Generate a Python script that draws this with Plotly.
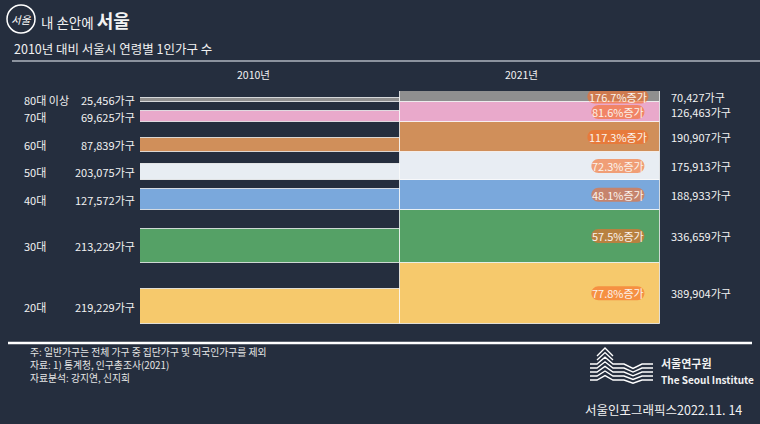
import plotly.graph_objects as go

ages = ['20대', '30대', '40대', '50대', '60대', '70대', '80대 이상']
hh_2010 = [219229, 213229, 127572, 102097, 87839, 69625, 25456]
hh_2021 = [389904, 336659, 188933, 175913, 190907, 126463, 70427]
labels_2010 = ['219,229가구', '213,229가구', '127,572가구', '203,075가구',
               '87,839가구', '69,625가구', '25,456가구']
growth = ['77.8%', '57.5%', '48.1%', '72.3%', '117.3%', '81.6%', '176.7%']

age_colors = {
    '20대': '#f6c96c',
    '30대': '#55a166',
    '40대': '#7aa8dc',
    '50대': '#e8edf3',
    '60대': '#d08f5a',
    '70대': '#e9a9cb',
    '80대 이상': '#8f8f8f',
}

bg = '#252e3e'
font_kr = 'Noto Sans CJK KR'

# band bottoms (stacked by 2021 values)
bottoms = []
acc = 0
for v in hh_2021:
    bottoms.append(acc)
    acc += v
total = acc

c2021 = [b + v / 2 for b, v in zip(bottoms, hh_2021)]
c2010 = [b + v / 2 for b, v in zip(bottoms, hh_2010)]
cols = [age_colors[a] for a in ages]

# plot area in pixels
L, R, T, B = 140, 660, 91, 324


def pp(x, y):
    return (x - L) / (R - L), (B - y) / (B - T)


fig = go.Figure()
fig.add_trace(go.Bar(
    y=c2010, x=[1] * 7, base=-1, width=hh_2010, orientation='h',
    marker=dict(color=cols, line=dict(color='rgba(255,255,255,0.75)', width=1)),
    hoverinfo='skip', showlegend=False
))
fig.add_trace(go.Bar(
    y=c2021, x=[1] * 7, base=0, width=hh_2021, orientation='h',
    marker=dict(color=cols, line=dict(color='rgba(255,255,255,0.75)', width=1)),
    hoverinfo='skip', showlegend=False
))

ann = []
shapes = []
lab_font = dict(family=font_kr, size=11, color='#f2f2f2')

for i, a in enumerate(ages):
    ann.append(dict(x=pp(22, 0)[0], xref='paper', y=c2010[i], yref='y',
                    text=a, showarrow=False, xanchor='left', font=lab_font))
    ann.append(dict(x=-1, xref='x', y=c2010[i], yref='y', xshift=-3,
                    text=labels_2010[i], showarrow=False, xanchor='right', font=lab_font))
    ann.append(dict(x=1, xref='x', y=c2021[i], yref='y', xshift=9,
                    text=f'{hh_2021[i]:,}가구', showarrow=False, xanchor='left', font=lab_font))
    # growth pill
    hw = (8 * len(growth[i]) + 13) / 2
    hh = 7
    r = 7
    k = 0.552 * r
    path = (f'M {-hw + r},{-hh} L {hw - r},{-hh} '
            f'C {hw - r + k},{-hh} {hw},{-k} {hw},0 '
            f'C {hw},{k} {hw - r + k},{hh} {hw - r},{hh} '
            f'L {-hw + r},{hh} '
            f'C {-hw + r - k},{hh} {-hw},{k} {-hw},0 '
            f'C {-hw},{-k} {-hw + r - k},{-hh} {-hw + r},{-hh} Z')
    shapes.append(dict(type='path', xref='x', yref='y', xsizemode='pixel', ysizemode='pixel',
                       xanchor=0.838, yanchor=c2021[i], path=path,
                       fillcolor='rgba(245,110,40,0.62)', line=dict(width=0), layer='above'))
    ann.append(dict(x=0.838, xref='x', y=c2021[i], yref='y',
                    text=growth[i] + '증가', showarrow=False,
                    font=dict(family=font_kr, size=11, color='#fbf3ec')))


def txt(x, y, s, size=11, anchor='left', color='#f2f2f2'):
    px_, py_ = pp(x, y)
    ann.append(dict(x=px_, y=py_, xref='paper', yref='paper', text=s, showarrow=False,
                    xanchor=anchor, yanchor='middle',
                    font=dict(family=font_kr, size=size, color=color)))


# header
txt(253, 75, '2010년', 10.5, 'center')
txt(521, 75, '2021년', 10.5, 'center')
txt(39, 20, '내 손안에 <b><span style="font-size:18px">서울</span></b>', 13.5)
txt(21, 19, '<i>서울</i>', 10.5, 'center', 'white')
txt(12, 48, '2010년 대비 서울시 연령별 1인가구 수', 12.5)

x0, y0 = pp(7, 5)
x1, y1 = pp(35, 33)
shapes.append(dict(type='circle', xref='paper', yref='paper', x0=x0, y0=y0, x1=x1, y1=y1,
                   line=dict(color='white', width=1.5)))
x0, y0 = pp(12, 61)
x1, _ = pp(760, 61)
shapes.append(dict(type='line', xref='paper', yref='paper', x0=x0, y0=y0, x1=x1, y1=y0,
                   line=dict(color='#8c939e', width=2)))

# footer
x0, y0 = pp(8, 343)
x1, _ = pp(752, 343)
shapes.append(dict(type='line', xref='paper', yref='paper', x0=x0, y0=y0, x1=x1, y1=y0,
                   line=dict(color='white', width=2.5)))
txt(28, 352, '주: 일반가구는 전체 가구 중 집단가구 및 외국인가구를 제외', 9.8, color='#e6e6e6')
txt(28, 365, '자료: 1) 통계청, 인구총조사(2021)', 9.8, color='#e6e6e6')
txt(28, 378, '자료분석: 강지연, 신지희', 9.8, color='#e6e6e6')
txt(659, 363, '<b>서울연구원</b>', 11)
txt(659, 379, '<b>The Seoul Institute</b>', 10, color='#f2f2f2')
txt(744, 409, '서울인포그래픽스2022.11. 14', 12.5, 'right')

# institute logo waves
for i in range(7):
    yb = 356 + 4 * i
    pts = [(590, yb), (597, yb), (605, yb - 8 + i * 0.6), (613, yb), (624, yb),
           (633, yb + 5 - i * 0.3), (642, yb), (653, yb)]
    if i < 2:
        pts = pts[1:4]
    path = ''
    for j, (px_, py_) in enumerate(pts):
        a, b = pp(px_, py_)
        path += ('M ' if j == 0 else ' L ') + f'{a},{b}'
    shapes.append(dict(type='path', xref='paper', yref='paper', path=path,
                       line=dict(color='white', width=1.4)))

fig.update_layout(
    width=760, height=424,
    margin=dict(l=L, r=760 - R, t=T, b=424 - B, pad=0),
    paper_bgcolor=bg, plot_bgcolor=bg,
    barmode='overlay', bargap=0,
    xaxis=dict(range=[-1, 1], visible=False, fixedrange=True),
    yaxis=dict(range=[0, total], visible=False, fixedrange=True),
    annotations=ann, shapes=shapes,
    font=dict(family=font_kr, color='white'),
)

fig.write_html('out.html', config={'displayModeBar': False},
               post_script="document.body.style.margin='0';")
